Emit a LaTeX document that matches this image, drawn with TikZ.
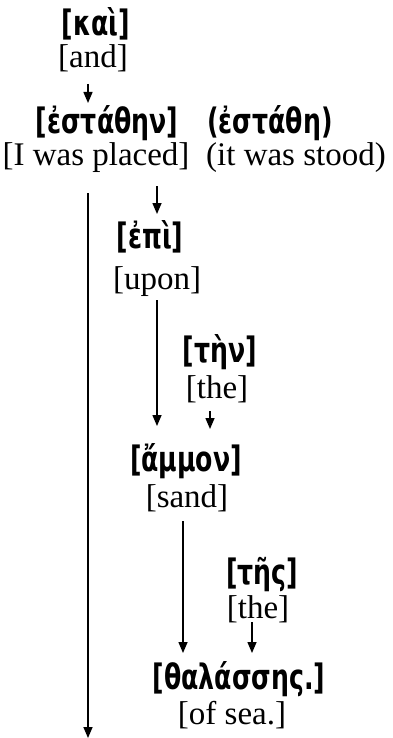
\documentclass[tikz,border=0pt]{standalone}
\usepackage{fontspec}
\setmainfont{Liberation Serif}
\newfontfamily\gk[FakeStretch=0.8]{DejaVu Sans Condensed}
\usetikzlibrary{arrows.meta,calc}
\begin{document}
\begin{tikzpicture}[x=1pt,y=1pt,
  gr/.style={inner sep=0pt,anchor=base,font=\gk\bfseries\fontsize{35}{38}\selectfont},
  en/.style={inner sep=0pt,anchor=base,font=\fontsize{33}{36}\selectfont},
  arr/.style={line width=1.5pt,-{Triangle[length=11pt,width=9pt]}}]
\useasboundingbox (0,0) rectangle (393,-738);
% x positions of connectors
\coordinate (xa) at (88,0);
\coordinate (xb) at (157,0);
\coordinate (xc) at (210,0);
\coordinate (xd) at (183,0);
\coordinate (xe) at (252,0);
% words
\node[gr] (kai)  at (96,-36)  {[καὶ]};
\node[en] (and)  at (93,-68)  {[and]};
\node[gr] (esta) at (107,-134) {[ἐστάθην]};
\node[en] (plac) at (96,-166) {[I was placed]};
\node[gr] (estb) at (270,-134) {(ἐστάθη)};
\node[en] (stood) at (296,-166) {(it was stood)};
\node[gr] (epi)  at (150,-248) {[ἐπὶ]};
\node[en] (upon) at (157,-289) {[upon]};
\node[gr] (ten)  at (220,-362) {[τὴν]};
\node[en] (theA) at (217,-398) {[the]};
\node[gr] (ammo) at (186,-471) {[ἄμμον]};
\node[en] (sand) at (187,-507) {[sand]};
\node[gr] (tes)  at (262,-584) {[τῆς]};
\node[en] (theB) at (258,-618) {[the]};
\node[gr] (thal) at (239,-689) {[θαλάσσης.]};
\node[en] (sea)  at (232,-724) {[of sea.]};
\coordinate (end) at (88,-738);
% connectors
\draw[arr] ($(and.base -| xa)+(0,-16)$) -- ($(esta.base -| xa)+(0,31)$);
\draw[arr] ($(plac.base -| xb)+(0,-20)$) -- ($(epi.base -| xb)+(0,34)$);
\draw[arr] ($(plac.base -| xa)+(0,-27)$) -- (end);
\draw[arr] ($(upon.base -| xb)+(0,-11)$) -- ($(ammo.base -| xb)+(0,45)$);
\draw[arr] ($(theA.base -| xc)+(0,-13)$) -- ($(ammo.base -| xc)+(0,42)$);
\draw[arr] ($(sand.base -| xd)+(0,-14)$) -- ($(thal.base -| xd)+(0,36)$);
\draw[arr] ($(theB.base -| xe)+(0,-4)$) -- ($(thal.base -| xe)+(0,36)$);
\end{tikzpicture}
\end{document}
